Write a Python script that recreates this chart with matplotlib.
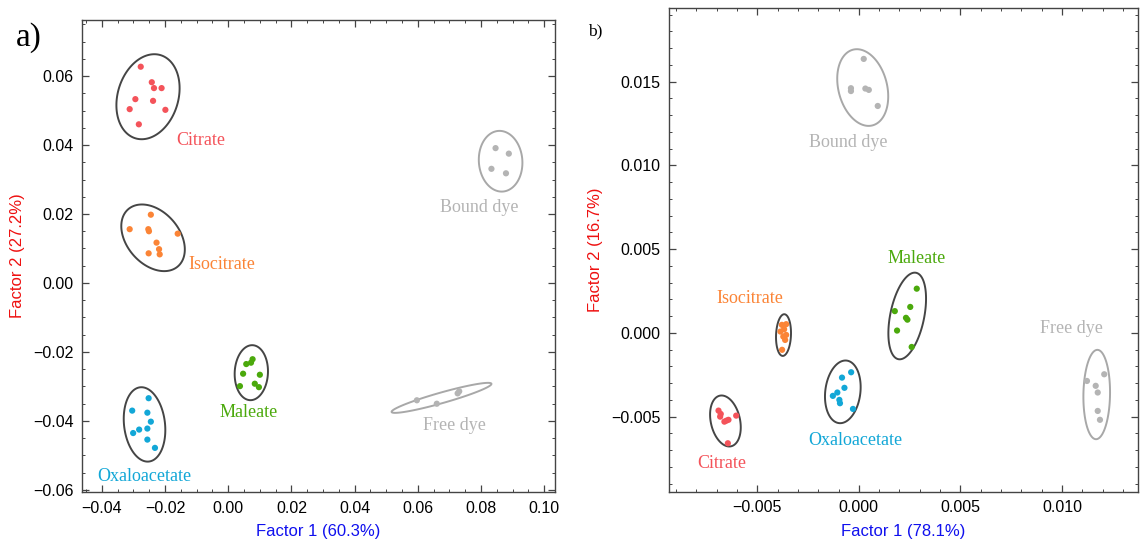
import numpy as np
import matplotlib
matplotlib.use("Agg")
import matplotlib.pyplot as plt
from matplotlib.patches import Polygon
from matplotlib.ticker import MultipleLocator, FuncFormatter

# ---- panel a) scores ----
a_citrate_x = [-0.0277, -0.0242, -0.0235, -0.0211, -0.0294, -0.0238, -0.0312, -0.0199, -0.0283]
a_citrate_y = [0.0627, 0.0582, 0.0565, 0.0565, 0.0533, 0.0528, 0.0504, 0.0502, 0.0460]
a_isocitrate_x = [-0.0245, -0.0312, -0.0253, -0.0251, -0.0160, -0.0227, -0.0219, -0.0217, -0.0252]
a_isocitrate_y = [0.0198, 0.0156, 0.0156, 0.0150, 0.0143, 0.0117, 0.0098, 0.0083, 0.0086]
a_maleate_x = [0.0057, 0.0072, 0.0077, 0.0047, 0.0100, 0.0037, 0.0084, 0.0097]
a_maleate_y = [-0.0235, -0.0231, -0.0221, -0.0263, -0.0266, -0.0299, -0.0292, -0.0302]
a_oxalo_x = [-0.0252, -0.0304, -0.0256, -0.0245, -0.0282, -0.0301, -0.0256, -0.0256, -0.0232]
a_oxalo_y = [-0.0334, -0.0370, -0.0376, -0.0402, -0.0425, -0.0435, -0.0422, -0.0454, -0.0478]
a_bound_x = [0.0846, 0.0888, 0.0833, 0.0879]
a_bound_y = [0.0391, 0.0375, 0.0331, 0.0318]
a_free_x = [0.0597, 0.0660, 0.0726, 0.0731]
a_free_y = [-0.0340, -0.0350, -0.0320, -0.0314]

# ellipses: centre x, centre y, sd x, sd y, correlation
a_ellipses = {
    "Citrate": (-0.0254, 0.0540, 0.0100, 0.01232, 0.2),
    "Isocitrate": (-0.0238, 0.0131, 0.01005, 0.00966, -0.35),
    "Maleate": (0.0073, -0.0260, 0.00527, 0.00797, 0.05),
    "Oxaloacetate": (-0.0265, -0.0410, 0.00658, 0.01078, -0.15),
    "Bound dye": (0.0862, 0.0353, 0.00690, 0.00880, -0.05),
    "Free dye": (0.0675, -0.0333, 0.0158, 0.00435, 0.93),
}

# ---- panel b) scores ----
b_citrate_x = [-0.00691, -0.00680, -0.00683, -0.00662, -0.00652, -0.00642, -0.00604, -0.00645]
b_citrate_y = [-0.00464, -0.00484, -0.00500, -0.00530, -0.00524, -0.00519, -0.00494, -0.00659]
b_isocitrate_x = [-0.00379, -0.00358, -0.00368, -0.00386, -0.00358, -0.00363, -0.00378, -0.00372]
b_isocitrate_y = [0.00048, 0.00052, 0.00022, 0.00008, -0.00012, -0.00042, -0.00101, -0.00022]
b_maleate_x = [0.00285, 0.00177, 0.00253, 0.00232, 0.00239, 0.00188, 0.00260]
b_maleate_y = [0.00264, 0.00130, 0.00155, 0.00090, 0.00079, 0.00014, -0.00084]
b_oxalo_x = [-0.00038, -0.00083, -0.00071, -0.00106, -0.00128, -0.00096, -0.00093, -0.00029]
b_oxalo_y = [-0.00235, -0.00267, -0.00328, -0.00356, -0.00376, -0.00400, -0.00420, -0.00454]
b_bound_x = [0.00024, -0.00039, -0.00039, 0.00032, 0.00049, 0.00093]
b_bound_y = [0.01636, 0.01461, 0.01444, 0.01459, 0.01451, 0.01355]
b_free_x = [0.01208, 0.01123, 0.01166, 0.01176, 0.01176, 0.01187]
b_free_y = [-0.00247, -0.00287, -0.00316, -0.00356, -0.00466, -0.00519]

b_ellipses = {
    "Citrate": (-0.00657, -0.00526, 0.000755, 0.001522, -0.25),
    "Isocitrate": (-0.00371, -0.00013, 0.000369, 0.001244, 0.1),
    "Maleate": (0.00238, 0.00101, 0.000927, 0.002587, 0.4),
    "Oxaloacetate": (-0.00079, -0.00352, 0.000878, 0.001871, 0.15),
    "Bound dye": (0.00019, 0.01465, 0.001255, 0.002289, -0.23),
    "Free dye": (0.01171, -0.00368, 0.000656, 0.002667, 0.05),
}

colors = {
    "Citrate": "#f4535a",
    "Isocitrate": "#fb8436",
    "Maleate": "#4ba90c",
    "Oxaloacetate": "#12a7d7",
    "Bound dye": "#b4b4b4",
    "Free dye": "#b4b4b4",
}
ell_colors = {k: ("#a8a8a8" if "dye" in k else "#454545") for k in colors}

a_groups = {
    "Citrate": (a_citrate_x, a_citrate_y),
    "Isocitrate": (a_isocitrate_x, a_isocitrate_y),
    "Maleate": (a_maleate_x, a_maleate_y),
    "Oxaloacetate": (a_oxalo_x, a_oxalo_y),
    "Bound dye": (a_bound_x, a_bound_y),
    "Free dye": (a_free_x, a_free_y),
}
b_groups = {
    "Citrate": (b_citrate_x, b_citrate_y),
    "Isocitrate": (b_isocitrate_x, b_isocitrate_y),
    "Maleate": (b_maleate_x, b_maleate_y),
    "Oxaloacetate": (b_oxalo_x, b_oxalo_y),
    "Bound dye": (b_bound_x, b_bound_y),
    "Free dye": (b_free_x, b_free_y),
}

# label anchors (text centre)
a_labels = {
    "Citrate": (-0.0088, 0.0412),
    "Isocitrate": (-0.0019, 0.0055),
    "Maleate": (0.0066, -0.0374),
    "Oxaloacetate": (-0.0265, -0.0562),
    "Bound dye": (0.0793, 0.0220),
    "Free dye": (0.0717, -0.0412),
}
b_labels = {
    "Citrate": (-0.00674, -0.00782),
    "Isocitrate": (-0.00535, 0.00203),
    "Maleate": (0.00286, 0.00442),
    "Oxaloacetate": (-0.00019, -0.00645),
    "Bound dye": (-0.00053, 0.01134),
    "Free dye": (0.01045, 0.00024),
}


def draw_ellipse(ax, cx, cy, sx, sy, rho, color):
    t = np.linspace(0, 2 * np.pi, 300, endpoint=False)
    x = cx + sx * np.cos(t)
    y = cy + sy * (rho * np.cos(t) + np.sqrt(1 - rho ** 2) * np.sin(t))
    ax.add_patch(Polygon(np.column_stack([x, y]), closed=True, fill=False,
                         edgecolor=color, lw=1.4, zorder=2))


def fmt(decimals):
    return FuncFormatter(lambda v, p: f"{v:.{decimals}f}".replace("-", "\u2212"))


def style_frame(ax):
    for s in ax.spines.values():
        s.set_color("#444444")
        s.set_linewidth(1.0)
    ax.tick_params(which="both", direction="in", top=True, right=True,
                   color="#444444", labelsize=11.5, pad=6)
    ax.tick_params(which="major", length=5, width=0.9)
    ax.tick_params(which="minor", length=2.5, width=0.7)
    for lab in ax.get_xticklabels() + ax.get_yticklabels():
        lab.set_fontfamily("Liberation Sans")


def draw_panel(ax, groups, ellipses, labels):
    for name, (xs, ys) in groups.items():
        ax.scatter(xs, ys, s=20, color=colors[name], edgecolors="none", zorder=3)
        draw_ellipse(ax, *ellipses[name], ell_colors[name])
        lx, ly = labels[name]
        ax.text(lx, ly, name, color=colors[name], fontsize=13,
                family="Liberation Serif", ha="center", va="center")


fig = plt.figure(figsize=(11.4, 5.44), dpi=100)

ax1 = fig.add_axes([0.0719, 0.0949, 0.4149, 0.8687])
draw_panel(ax1, a_groups, a_ellipses, a_labels)
ax1.set_xlim(-0.0463, 0.1034)
ax1.set_ylim(-0.0607, 0.0763)
ax1.xaxis.set_major_locator(MultipleLocator(0.02))
ax1.xaxis.set_minor_locator(MultipleLocator(0.005))
ax1.yaxis.set_major_locator(MultipleLocator(0.02))
ax1.yaxis.set_minor_locator(MultipleLocator(0.005))
ax1.xaxis.set_major_formatter(fmt(2))
ax1.yaxis.set_major_formatter(fmt(2))
style_frame(ax1)
ax1.set_xlabel("Factor 1 (60.3%)", color="#1010ee", fontsize=12,
               family="Liberation Sans", labelpad=6)
ax1.set_ylabel("Factor 2 (27.2%)", color="#ee1010", fontsize=12,
               family="Liberation Sans", labelpad=6)

ax2 = fig.add_axes([0.5868, 0.0956, 0.4114, 0.8897])
draw_panel(ax2, b_groups, b_ellipses, b_labels)
ax2.set_xlim(-0.00935, 0.01374)
ax2.set_ylim(-0.0095, 0.0194)
ax2.xaxis.set_major_locator(MultipleLocator(0.005))
ax2.xaxis.set_minor_locator(MultipleLocator(0.001))
ax2.yaxis.set_major_locator(MultipleLocator(0.005))
ax2.yaxis.set_minor_locator(MultipleLocator(0.001))
ax2.xaxis.set_major_formatter(fmt(3))
ax2.yaxis.set_major_formatter(fmt(3))
style_frame(ax2)
ax2.set_xlabel("Factor 1 (78.1%)", color="#1010ee", fontsize=12,
               family="Liberation Sans", labelpad=6)
ax2.set_ylabel("Factor 2 (16.7%)", color="#ee1010", fontsize=12,
               family="Liberation Sans", labelpad=6)

fig.text(0.025, 0.93, "a)", fontsize=24, family="Liberation Serif", va="center", ha="center")
fig.text(0.522, 0.942, "b)", fontsize=12.5, family="Liberation Serif", va="center", ha="center")

fig.savefig("out.png", dpi=100)
